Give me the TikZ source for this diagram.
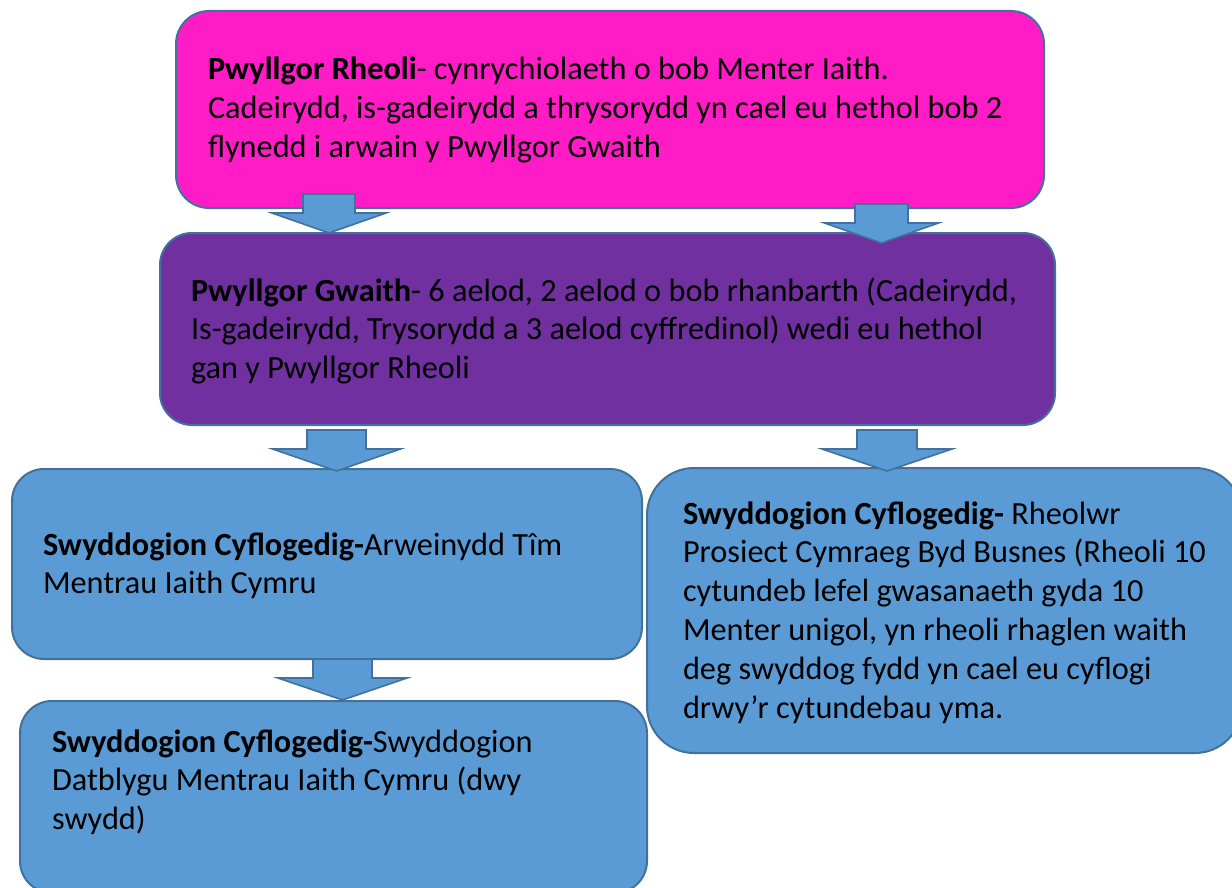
\documentclass[tikz,border=0pt]{standalone}
\usepackage{fontspec}
\setmainfont{Carlito}
\definecolor{magfill}{HTML}{FF1BC6}
\definecolor{purfill}{HTML}{7030A0}
\definecolor{bluefill}{HTML}{5B9BD5}
\definecolor{edge}{HTML}{41719C}
\newcommand\blkarrow[6]{%
  \draw[blockarrow] (#1-#2,#3) -- (#1+#2,#3) -- (#1+#2,#5) -- (#1+#4,#5) -- (#1,#6) -- (#1-#4,#5) -- (#1-#2,#5) -- cycle;}
\tikzset{
  orgbox/.style={draw=edge, line width=2pt, rectangle, inner sep=0pt, outer sep=0pt},
  blockarrow/.style={draw=edge, fill=bluefill, line width=1.6pt, line join=miter},
  txt/.style={anchor=base west, inner sep=0pt, outer sep=0pt, text=black},
}
\newcommand\boxtext[1]{\parbox[t]{1000pt}{\fontsize{32.3}{38.8}\selectfont\raggedright #1}}
\begin{document}
\begin{tikzpicture}[x=1pt,y=-1pt]
\useasboundingbox (0,0) rectangle (1232,888);
\clip (0,0) rectangle (1232,888);
% boxes
\node[orgbox, fill=magfill, rounded corners=33pt, minimum width=868pt, minimum height=197pt] (rheoli) at (610,109.5) {};
\node[orgbox, fill=purfill, rounded corners=32pt, minimum width=895pt, minimum height=192pt] (gwaith) at (607.5,329) {};
\node[orgbox, fill=bluefill, rounded corners=32pt, minimum width=630pt, minimum height=190pt] (arwein) at (327,564) {};
\node[orgbox, fill=bluefill, rounded corners=47pt, minimum width=595pt, minimum height=285pt] (rheolwr) at (944.5,610.5) {};
\node[orgbox, fill=bluefill, rounded corners=32pt, minimum width=627pt, minimum height=192pt] (datblygu) at (333.5,797) {};
% arrows
\blkarrow{329}{26}{194}{57}{213}{233}
\blkarrow{881.5}{26.5}{204}{57}{223}{243}
\blkarrow{336.5}{29.5}{430}{64}{449}{471}
\blkarrow{887}{30}{430}{65}{449}{471}
\blkarrow{342.5}{29.5}{659}{64.5}{678}{700}
% texts
\node[txt] (t1) at (208,80) {\boxtext{\textbf{Pwyllgor Rheoli}- cynrychiolaeth o bob Menter Iaith.\\Cadeirydd, is-gadeirydd a thrysorydd yn cael eu hethol bob 2\\flynedd i arwain y Pwyllgor Gwaith}};
\node[txt] (t2) at (191,301) {\boxtext{\textbf{Pwyllgor Gwaith}- 6 aelod, 2 aelod o bob rhanbarth (Cadeirydd,\\Is-gadeirydd, Trysorydd a 3 aelod cyffredinol) wedi eu hethol\\gan y Pwyllgor Rheoli}};
\node[txt] (t3) at (43,555) {\boxtext{\textbf{Swyddogion Cyflogedig-}Arweinydd Tîm\\Mentrau Iaith Cymru}};
\node[txt] (t4) at (683,524) {\boxtext{\textbf{Swyddogion Cyflogedig-} Rheolwr\\Prosiect Cymraeg Byd Busnes (Rheoli 10\\cytundeb lefel gwasanaeth gyda 10\\Menter unigol, yn rheoli rhaglen waith\\deg swyddog fydd yn cael eu cyflogi\\drwy’r cytundebau yma.}};
\node[txt] (t5) at (52,752) {\boxtext{\textbf{Swyddogion Cyflogedig-}Swyddogion\\Datblygu Mentrau Iaith Cymru (dwy\\swydd)}};
\end{tikzpicture}
\end{document}
